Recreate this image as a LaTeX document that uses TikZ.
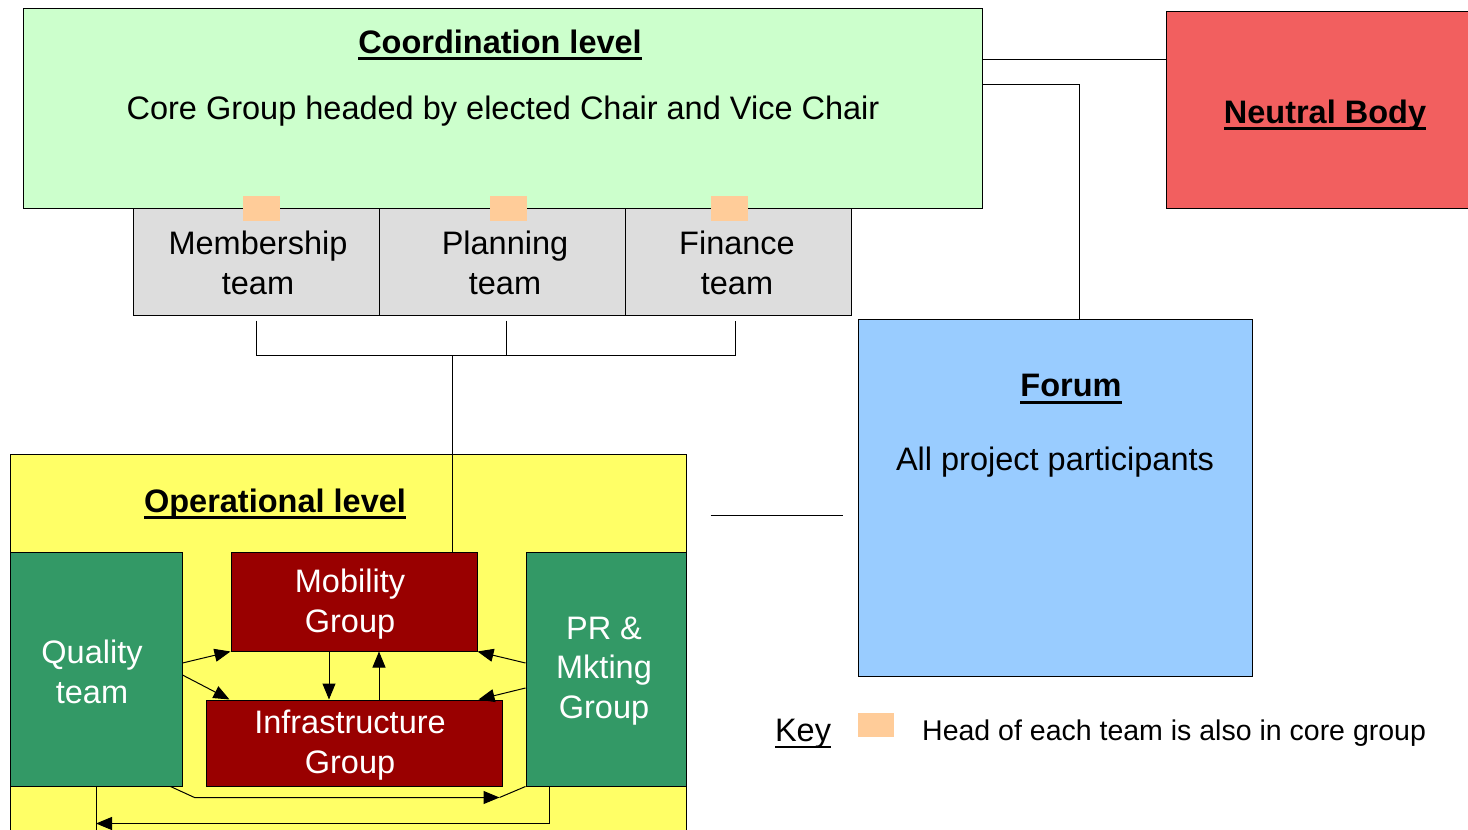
\documentclass[tikz,border=0pt]{standalone}
\usepackage{fontspec}
\setmainfont{Liberation Sans}
\usetikzlibrary{arrows.meta,calc}
\definecolor{coordgreen}{HTML}{CCFFCC}
\definecolor{neutralred}{HTML}{F25F5F}
\definecolor{teamgrey}{HTML}{DDDDDD}
\definecolor{headorange}{HTML}{FFCC99}
\definecolor{forumblue}{HTML}{99CCFF}
\definecolor{opyellow}{HTML}{FFFF66}
\definecolor{opgreen}{HTML}{339966}
\definecolor{opred}{HTML}{990000}
% underline drawn as a rule of its own
\newcommand{\thickul}[2][3pt]{\setbox0=\hbox{#2}\leavevmode\rlap{\copy0}\raisebox{-4pt}{\rule[-#1]{\wd0}{#1}}}
\begin{document}
\begin{tikzpicture}[x=1pt, y=-1pt,
        box/.style = {draw, line width=1pt, inner sep=0pt},
        lbl/.style = {font=\fontsize{32.5}{39.5}\selectfont, align=center},
        ttl/.style = {font=\fontsize{32.5}{39.5}\selectfont\bfseries},
        head/.style = {fill=headorange, inner sep=0pt, minimum width=37pt, minimum height=25pt},
        link/.style = {line width=1pt},
        arr/.style = {line width=1pt, -{Triangle[length=16pt,width=13pt]}}]
            \useasboundingbox (0,0) rectangle (1468,830);
            % coordination level
            \node [box, fill=coordgreen, minimum width=959pt, minimum height=200pt] (coord) at (502.5,108) {};
            \node [ttl] (coordtitle) at (500,45) {\thickul{Coordination level}};
            \node [lbl] (core) at (503,111) {Core Group headed by elected Chair and Vice Chair};
            \node [box, fill=neutralred, minimum width=306pt, minimum height=197pt] (neutral) at (1319,109.5) {};
            \node [ttl] (neutraltitle) at (1325,115) {\thickul{Neutral Body}};
            % teams
            \node [box, lbl, fill=teamgrey, minimum width=246pt, minimum height=107pt] (memb) at (256,261.5) {};
            \node [box, lbl, fill=teamgrey, minimum width=246pt, minimum height=107pt] (plan) at (502,261.5) {};
            \node [box, lbl, fill=teamgrey, minimum width=226pt, minimum height=107pt] (fin) at (738,261.5) {};
            \node [lbl] (membtext) at (258,263) {Membership\\team};
            \node [lbl] (plantext) at (505,263) {Planning\\team};
            \node [lbl] (fintext) at (737,263) {Finance\\team};
            \node [head] (membhead) at (261.5,208.5) {};
            \node [head] (planhead) at (508,208.5) {};
            \node [head] (finhead) at (729,208.5) {};
            % forum
            \node [box, fill=forumblue, minimum width=394pt, minimum height=357pt] (forum) at (1055,497.5) {};
            \node [ttl] (forumtitle) at (1071,389) {\thickul{Forum}};
            \node [lbl] (forumtext) at (1055,462) {All project participants};
            % operational level
            \node [box, fill=opyellow, minimum width=676pt, minimum height=385pt] (op) at (348,646.5) {};
            \node [ttl] (optitle) at (275,504) {\thickul{Operational level}};
            \node [box, fill=opgreen, minimum width=172pt, minimum height=234pt] (qual) at (96,669) {};
            \node [box, fill=opred, minimum width=246pt, minimum height=99pt] (mob) at (354,601.5) {};
            \node [box, fill=opred, minimum width=296pt, minimum height=86pt] (infra) at (354,743) {};
            \node [box, fill=opgreen, minimum width=160pt, minimum height=234pt] (pr) at (606,669) {};
            \node [lbl, text=white] (qualtext) at (92,672) {Quality\\team};
            \node [lbl, text=white] (mobtext) at (350,604) {Mobility\\Group};
            \node [lbl, text=white] (infratext) at (350,745) {Infrastructure\\Group};
            \node [lbl, text=white] (prtext) at (604,671) {PR \&\\Mkting\\Group};
            % key
            \node [lbl] (key) at (803,734) {\thickul[2pt]{Key}};
            \node [head, minimum width=36pt, minimum height=24pt] (keyhead) at (876,725) {};
            \node [font=\fontsize{28.5}{34}\selectfont, anchor=west, inner sep=0pt] (keytext) at (922,733) {Head of each team is also in core group};
            % links at the top
            \coordinate (cn) at ([yshift=-52pt]coord.north east);
            \draw [link] (cn) -- (cn -| neutral.west);
            \coordinate (cf) at ([yshift=-77pt]coord.north east);
            \draw [link] (cf) -| ([xshift=24pt]forum.north);
            \draw [link] ([yshift=-5pt]memb.south) |- ([xshift=-3pt,yshift=-40pt]fin.south) -- ([xshift=-3pt,yshift=-5pt]fin.south);
            \draw [link] ([xshift=4pt,yshift=-5pt]plan.south) -- ++(0,35);
            \draw [link] ([xshift=98pt]mob.north) -- ++(0,-197);
            \draw [link] ($(op.north east)+(24,62)$) -- ($(forum.north west)+(-15,197)$);
            % arrows inside the operational level
            \draw [arr] ([yshift=6pt]qual.east) -- (mob.south west);
            \draw [arr] ([yshift=-6pt]qual.east) -- ([xshift=24pt]infra.north west);
            \draw [arr] ([yshift=6pt]pr.west) -- (mob.south east);
            \draw [arr] ([yshift=-19pt]pr.west) -- ([xshift=-24pt]infra.north east);
            \draw [arr] ([xshift=-25pt]mob.south) -- ([xshift=-25pt]infra.north);
            \draw [arr] ([xshift=25pt]infra.north) -- ([xshift=25pt]mob.south);
            \draw [arr] ([xshift=-12pt]qual.south east) -- ++(24,11) -- ([xshift=-26pt,yshift=-11pt]pr.south west);
            \draw [link] ([xshift=-26pt,yshift=-11pt]pr.south west) -- (pr.south west);
            \draw [link] (qual.south) -- ++(0,45);
            \draw [arr] ([xshift=24pt]pr.south west) |- ([yshift=-37pt]qual.south);
\end{tikzpicture}
\end{document}
